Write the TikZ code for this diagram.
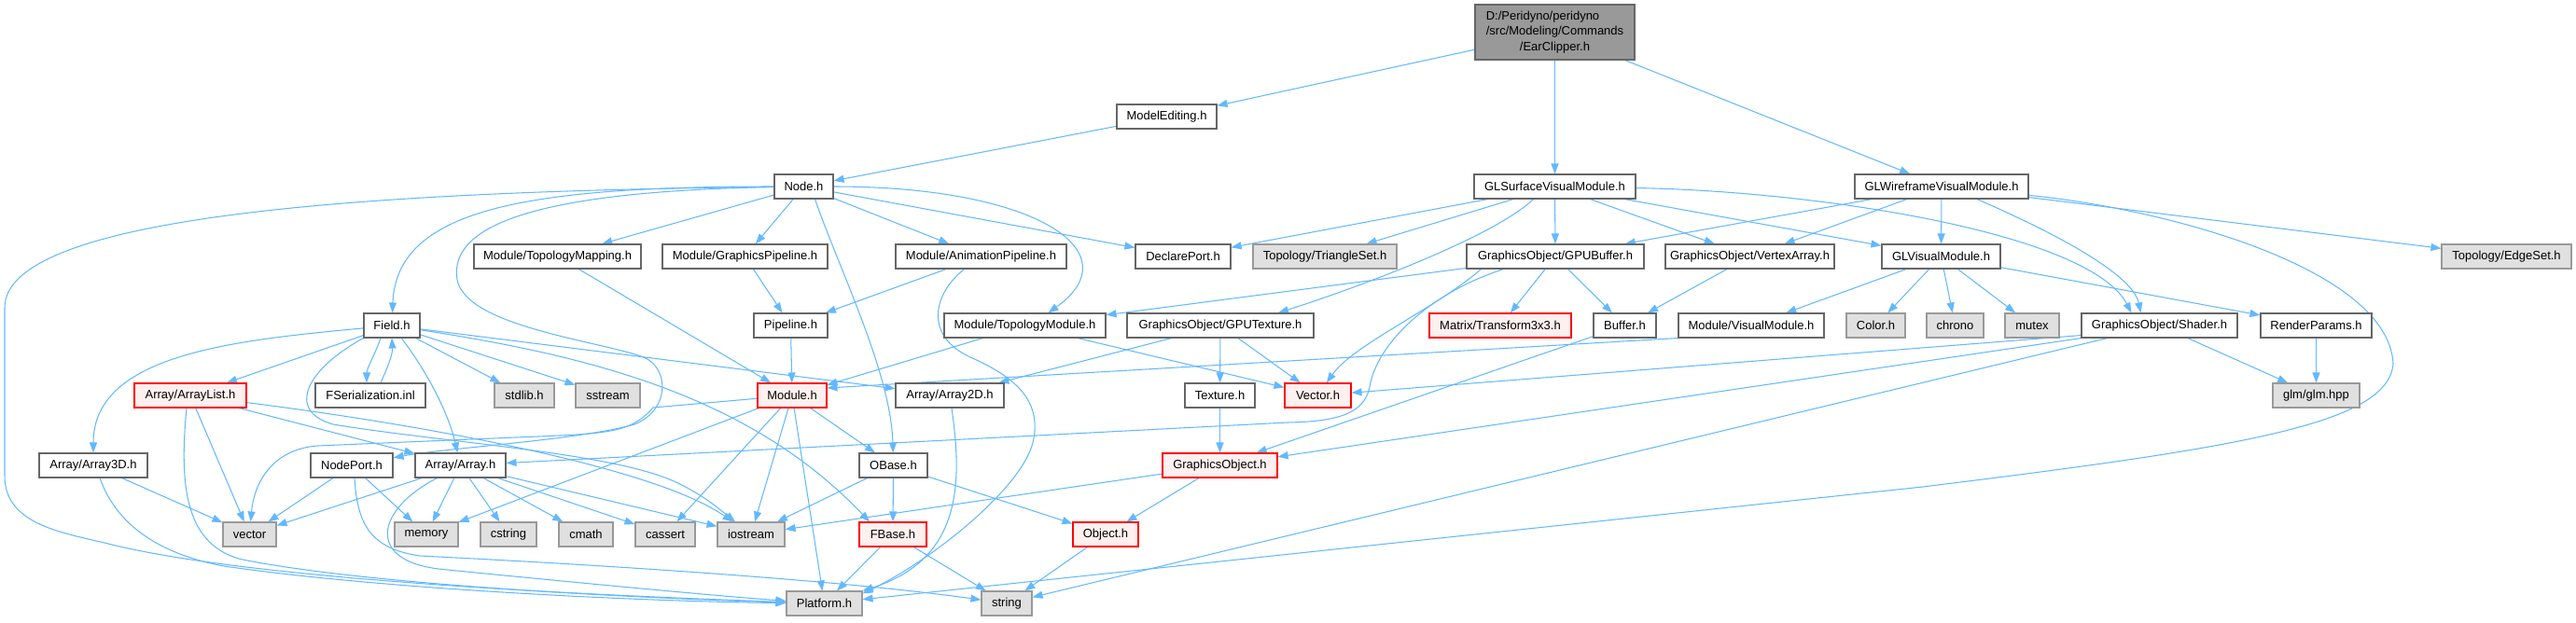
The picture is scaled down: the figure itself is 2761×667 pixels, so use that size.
\documentclass[tikz,border=0pt]{standalone}
\usepackage{fontspec}
\setmainfont{Liberation Sans}
\usetikzlibrary{arrows.meta}
\definecolor{eblue}{HTML}{63B8FF}
\definecolor{gfour}{HTML}{666666}
\definecolor{gsix}{HTML}{999999}
\definecolor{gnine}{HTML}{E0E0E0}
\definecolor{pinkf}{HTML}{FFF0F0}
\pgfdeclarelayer{bg}
\pgfsetlayers{bg,main}
\tikzset{
  box/.style={draw=gfour, fill=white, line width=1.1pt, minimum height=26pt, inner sep=0pt, font=\fontsize{13}{16.5}\selectfont},
  sysbox/.style={box, draw=gsix, fill=gnine},
  redbox/.style={box, draw=red, fill=pinkf},
  rootbox/.style={box, fill=gsix},
  dep/.style={draw=eblue, line width=1.05pt, -{Triangle[length=11pt,width=8pt]}},
}
\begin{document}
\begin{tikzpicture}[x=1pt,y=-1pt]
\useasboundingbox (0,0) rectangle (2761,667);
% row 0-2
\node[rootbox, minimum width=171pt, minimum height=59pt] (Root) at (1666.5,34.5) {\begin{tabular}{@{}l@{}}D:/Peridyno/peridyno\\/src/Modeling/Commands\\\multicolumn{1}{@{}c@{}}{/EarClipper.h}\end{tabular}};
\node[box, minimum width=107pt] (ME) at (1250.5,125) {ModelEditing.h};
\node[box, minimum width=63pt] (Node) at (861.5,200) {Node.h};
\node[box, minimum width=173pt] (GLS) at (1666.5,200) {GLSurfaceVisualModule.h};
\node[box, minimum width=186pt] (GLW) at (2081,200) {GLWireframeVisualModule.h};
% row 275
\node[box, minimum width=179pt] (TMap) at (597.5,275) {Module/TopologyMapping.h};
\node[box, minimum width=177pt] (GPipe) at (798.5,275) {Module/GraphicsPipeline.h};
\node[box, minimum width=183pt] (APipe) at (1051.5,275) {Module/AnimationPipeline.h};
\node[box, minimum width=102pt] (DPort) at (1268,275) {DeclarePort.h};
\node[sysbox, minimum width=154pt] (TriSet) at (1420,275) {Topology/TriangleSet.h};
\node[box, minimum width=190pt] (GPUBuf) at (1667,275) {GraphicsObject/GPUBuffer.h};
\node[box, minimum width=181pt] (VArr) at (1875.5,275) {GraphicsObject/VertexArray.h};
\node[box, minimum width=127pt] (GLVis) at (2080.5,275) {GLVisualModule.h};
\node[sysbox, minimum width=139pt] (EdgeSet) at (2686.5,275) {Topology/EdgeSet.h};
% row 349
\node[box, minimum width=60pt] (Field) at (420,349) {Field.h};
\node[box, minimum width=79pt] (Pipeline) at (847.5,349) {Pipeline.h};
\node[box, minimum width=173pt] (TModule) at (1098.5,349) {Module/TopologyModule.h};
\node[box, minimum width=200pt] (GPUTex) at (1308,349) {GraphicsObject/GPUTexture.h};
\node[redbox, minimum width=152pt] (Tr3) at (1608,349) {Matrix/Transform3x3.h};
\node[box, minimum width=67pt] (Buffer) at (1741.5,349) {Buffer.h};
\node[box, minimum width=156pt] (VisMod) at (1877,349) {Module/VisualModule.h};
\node[sysbox, minimum width=63pt] (Color) at (2010.5,349) {Color.h};
\node[sysbox, minimum width=61pt] (chrono) at (2095.5,349) {chrono};
\node[sysbox, minimum width=58pt] (mutex) at (2178,349) {mutex};
\node[box, minimum width=167pt] (Shader) at (2314.5,349) {GraphicsObject/Shader.h};
\node[box, minimum width=119pt] (RParams) at (2482.5,349) {RenderParams.h};
% row 424
\node[redbox, minimum width=120pt] (ArrayList) at (204,424) {Array/ArrayList.h};
\node[box, minimum width=118pt] (FSer) at (397,424) {FSerialization.inl};
\node[sysbox, minimum width=64pt] (stdlib) at (562,424) {stdlib.h};
\node[sysbox, minimum width=69pt] (sstream) at (651.5,424) {sstream};
\node[redbox, minimum width=74pt] (Module) at (849,424) {Module.h};
\node[box, minimum width=116pt] (Array2D) at (1018,424) {Array/Array2D.h};
\node[box, minimum width=75pt] (Texture) at (1307.5,424) {Texture.h};
\node[redbox, minimum width=71pt] (Vector) at (1412.5,424) {Vector.h};
\node[sysbox, minimum width=93pt] (glm) at (2482.5,424) {glm/glm.hpp};
% row 499
\node[box, minimum width=116pt] (Array3D) at (100,499) {Array/Array3D.h};
\node[box, minimum width=88pt] (NodePort) at (377,499) {NodePort.h};
\node[box, minimum width=97pt] (Array) at (493.5,499) {Array/Array.h};
\node[box, minimum width=73pt] (OBase) at (957.5,499) {OBase.h};
\node[redbox, minimum width=123pt] (GObj) at (1307.5,499) {GraphicsObject.h};
% row 573
\node[sysbox, minimum width=57pt] (vector) at (267.5,573) {vector};
\node[sysbox, minimum width=68pt] (memory) at (457,573) {memory};
\node[sysbox, minimum width=60pt] (cstring) at (545,573) {cstring};
\node[sysbox, minimum width=58pt] (cmath) at (628,573) {cmath};
\node[sysbox, minimum width=64pt] (cassert) at (713,573) {cassert};
\node[sysbox, minimum width=72pt] (iostream) at (805,573) {iostream};
\node[redbox, minimum width=72pt] (FBase) at (957,573) {FBase.h};
\node[redbox, minimum width=70pt] (Object) at (1185,573) {Object.h};
% row 647
\node[sysbox, minimum width=81pt] (Platform) at (883.5,647) {Platform.h};
\node[sysbox, minimum width=54pt] (string) at (1079,647) {string};

\begin{pgfonlayer}{bg}
\draw[dep] (Root) -- (ME);
\draw[dep] (Root) -- (GLS);
\draw[dep] (Root) -- (GLW);
\draw[dep] (ME) -- (Node);
% Node.h
\draw[dep] (Node) .. controls (560,200) and (425,225) .. (Field);
\draw[dep] (Node) .. controls (400,205) and (5,230) .. (5,330) -- (5,510) .. controls (5,560) and (60,570) .. (112,582) .. controls (200,605) and (400,630) .. (Platform);
\draw[dep] (Node) .. controls (580,205) and (480,240) .. (490,300) .. controls (500,350) and (640,365) .. (690,383) .. controls (718,395) and (718,440) .. (680,455) .. controls (620,472) and (480,480) .. (NodePort);
\draw[dep] (Node) -- (TMap);
\draw[dep] (Node) -- (GPipe);
\draw[dep] (Node) -- (APipe);
\draw[dep] (Node) -- (DPort);
\draw[dep] (Node) .. controls (1110,200) and (1215,270) .. ([xshift=25pt]TModule.north);
\draw[dep] ([xshift=12pt]Node.south) .. controls (900,290) and (955,400) .. (OBase);
% pipelines
\draw[dep] (TMap) -- (Module);
\draw[dep] (GPipe) -- (Pipeline);
\draw[dep] (APipe) -- (Pipeline);
\draw[dep] ([xshift=-18pt]APipe.south) .. controls (1000,315) and (990,360) .. (1040,383) .. controls (1090,405) and (1115,430) .. (1108,470) .. controls (1100,520) and (1000,600) .. ([yshift=-3pt]Platform.north east);
\draw[dep] (Pipeline) -- (Module);
\draw[dep] (TModule) -- (Module);
\draw[dep] (TModule) -- (Vector);
\draw[dep] (GPUTex) -- (Array2D);
\draw[dep] (GPUTex) -- (Texture);
\draw[dep] (GPUTex) -- (Vector);
\draw[dep] (Texture) -- (GObj);
\draw[dep] (Array2D) .. controls (1032,520) and (1030,600) .. (Platform.north east);
% Module.h
\draw[dep] (Module) -- (700,437) .. controls (680,460) and (660,464) .. (600,467) -- (340,478) .. controls (290,482) and (272,520) .. (vector);
\draw[dep] (Module) -- (memory);
\draw[dep] (Module) -- (cassert);
\draw[dep] (Module) -- (iostream);
\draw[dep] (Module) -- (Platform);
\draw[dep] (Module) -- (OBase);
% GPUBuffer
\draw[dep] (GPUBuf) -- (TModule);
\draw[dep] (GPUBuf) -- (Tr3);
\draw[dep] (GPUBuf) -- (Buffer);
\draw[dep] ([xshift=16pt]GPUBuf.south west) .. controls (1540,330) and (1450,370) .. (Vector);
\draw[dep] ([xshift=40pt]GPUBuf.south west) .. controls (1530,315) and (1475,370) .. (1468,415) .. controls (1462,445) and (1430,452) .. (1380,453) -- (Array);
% visual modules
\draw[dep] (VArr) -- (Buffer);
\draw[dep] (VisMod.south west) -- ([yshift=8pt]Module.east);
\draw[dep] (GLVis) -- (VisMod);
\draw[dep] (GLVis) -- (Color);
\draw[dep] (GLVis) -- (chrono);
\draw[dep] (GLVis) -- (mutex);
\draw[dep] (GLVis) -- (RParams);
\draw[dep] (RParams) -- (glm);
\draw[dep] (Shader) -- (glm);
\draw[dep] (Shader.south west) -- (GObj);
\draw[dep] ([yshift=3pt]Shader.south west) -- (Vector);
\draw[dep] (Shader) -- (string);
\draw[dep] (Buffer) -- (GObj);
% GLWireframe
\draw[dep] (GLW) -- (GLVis);
\draw[dep] (GLW) -- (VArr);
\draw[dep] (GLW) -- (GPUBuf);
\draw[dep] (GLW) -- (EdgeSet);
\draw[dep] ([xshift=38pt]GLW.south) .. controls (2180,240) and (2285,290) .. ([xshift=-20pt]Shader.north);
\draw[dep] (GLW) .. controls (2330,225) and (2560,290) .. (2565,390) .. controls (2560,455) and (2400,480) .. (2061,522) -- (Platform);
% GLSurface
\draw[dep] (GLS) -- (DPort);
\draw[dep] (GLS) -- (TriSet);
\draw[dep] ([xshift=-23pt]GLS.south) .. controls (1600,255) and (1450,310) .. ([xshift=62pt]GPUTex.north);
\draw[dep] (GLS) -- (GPUBuf);
\draw[dep] (GLS) -- (VArr);
\draw[dep] (GLS) -- (GLVis);
\draw[dep] (GLS) .. controls (1950,205) and (2240,250) .. ([xshift=-30pt]Shader.north);
% Field.h
\draw[dep] (Field) -- (ArrayList);
\draw[dep] ([xshift=-12pt]Field.south) .. controls (402,380) and (393,395) .. ([xshift=-4pt]FSer.north);
\draw[dep] ([xshift=11pt]FSer.north) .. controls (415,395) and (421,380) .. (Field.south);
\draw[dep] (Field) -- (stdlib);
\draw[dep] (Field) -- (sstream);
\draw[dep] (Field) .. controls (250,365) and (100,380) .. (Array3D);
\draw[dep] (Field) .. controls (455,395) and (480,440) .. (Array);
\draw[dep] (Field.south west) .. controls (330,395) and (305,440) .. (357,455) .. controls (480,475) and (650,485) .. (720,515) .. controls (750,528) and (770,545) .. (iostream);
\draw[dep] (Field) -- (Array2D);
\draw[dep] (Field) .. controls (620,380) and (800,420) .. ([xshift=-25pt]FBase.north);
% ArrayList
\draw[dep] (ArrayList) -- (vector);
\draw[dep] (ArrayList) -- (Array);
\draw[dep] (ArrayList) .. controls (450,455) and (700,500) .. (iostream);
\draw[dep] ([xshift=-4pt]ArrayList.south) .. controls (192,520) and (198,585) .. (260,600) .. controls (400,628) and (700,642) .. (Platform);
% Array3D
\draw[dep] (Array3D) -- (vector);
\draw[dep] ([xshift=7pt]Array3D.south) .. controls (122,555) and (160,592) .. (240,607) .. controls (420,633) and (700,645) .. (Platform);
% NodePort
\draw[dep] (NodePort) -- (vector);
\draw[dep] (NodePort) -- (memory);
\draw[dep] ([xshift=3pt]NodePort.south) .. controls (383,560) and (395,588) .. (450,596) .. controls (650,606) and (900,622) .. (string);
% Array.h
\draw[dep] (Array) -- (vector);
\draw[dep] (Array) -- (memory);
\draw[dep] (Array) -- (cstring);
\draw[dep] (Array) -- (cmath);
\draw[dep] (Array) -- (cassert);
\draw[dep] (Array) -- (iostream);
\draw[dep] ([xshift=-25pt]Array.south) .. controls (405,545) and (390,600) .. (470,610) .. controls (620,625) and (780,640) .. (Platform);
% bases
\draw[dep] (OBase) -- (iostream);
\draw[dep] (OBase) -- (FBase);
\draw[dep] (OBase) -- (Object);
\draw[dep] (FBase) -- (Platform);
\draw[dep] (FBase) -- (string);
\draw[dep] (Object) -- (string);
\draw[dep] (GObj) -- (iostream);
\draw[dep] (GObj) -- (Object);
\end{pgfonlayer}
\end{tikzpicture}
\end{document}
